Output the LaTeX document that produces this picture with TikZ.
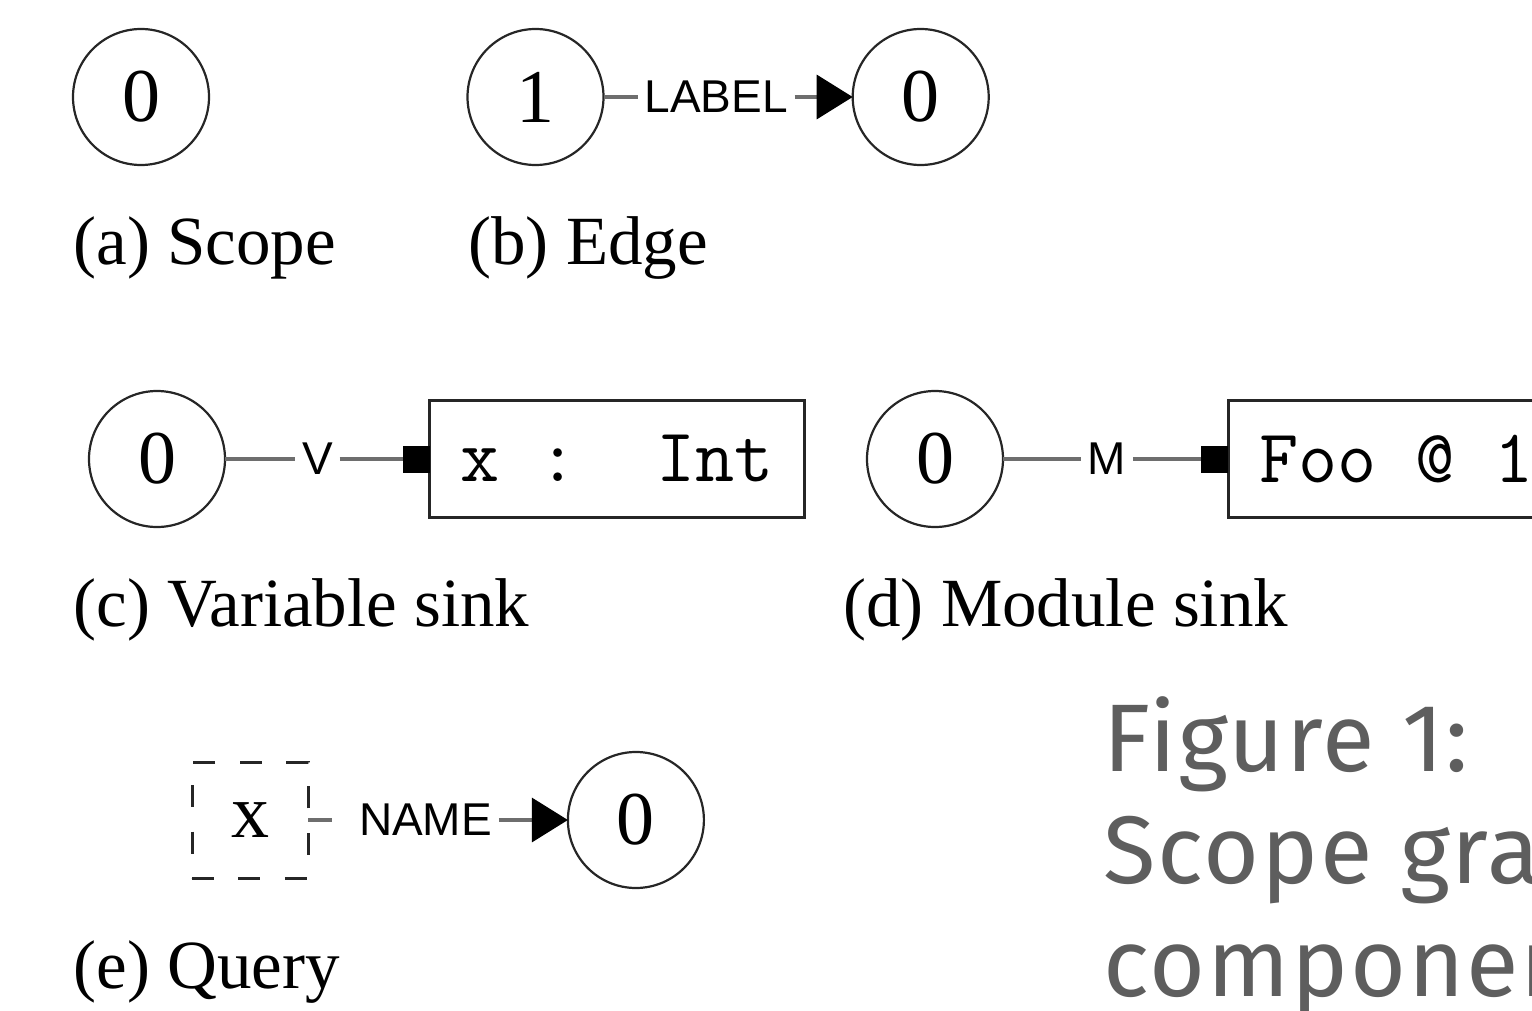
\documentclass[tikz,border=0pt]{standalone}
\usepackage{fontspec}
\setmainfont{Liberation Serif}
\setsansfont{Liberation Sans}
\newfontfamily\figfont[LetterSpace=2]{Fira Sans}
\usepackage{tikz}
\usetikzlibrary{arrows.meta, positioning}
\definecolor{capgray}{RGB}{94,94,94}
\definecolor{edgegray}{RGB}{110,110,110}
\tikzset{
    scopenode/.style={circle, draw=black!85, line width=1.1pt, minimum size=68pt, inner sep=0pt, outer sep=0pt, font=\fontsize{38}{44}\selectfont},
    sinkbox/.style={rectangle, draw=black!85, line width=1.6pt, inner xsep=15.5pt, minimum height=58.5pt, outer sep=0pt, font=\ttfamily\fontsize{38}{44}\selectfont},
    querybox/.style={rectangle, draw=black!85, line width=1.5pt, dash pattern=on 11pt off 12.2pt, minimum size=58pt, inner sep=0pt, outer sep=0pt, font=\fontsize{38}{44}\selectfont},
    edgelabel/.style={inner xsep=3.5pt, inner ysep=2pt, outer sep=0pt, font=\sffamily\fontsize{23}{27}\selectfont},
    edgeline/.style={draw=edgegray, line width=1.6pt},
    reaches/.style={edgeline, -{Triangle[length=18pt, width=22pt, color=black]}},
    sinks/.style={edgeline, -{Square[length=13.5pt, width=13.5pt, color=black]}},
    subcap/.style={anchor=base west, inner sep=0pt, font=\fontsize{34.5}{40}\selectfont},
    figcap/.style={anchor=base west, inner sep=0pt, align=left, text=capgray, font=\figfont\fontsize{48}{56.25}\selectfont}
}

\begin{document}
\begin{tikzpicture}[x=0.5pt, y=-0.5pt]
    \useasboundingbox (0,0) rectangle (1532,1011);
    \clip (0,0) rectangle (1532,1011);

    % (a) Scope
    \node[scopenode] (a0) at (141,97) {0};
    \node[subcap] (capa) at (73,264) {(a) Scope};

    % (b) Edge
    \node[scopenode] (b1) at (535.5,97) {1};
    \node[edgelabel, right=17pt of b1] (blabel) {LABEL};
    \node[scopenode, right=29pt of blabel] (b0) {0};
    \node[subcap] (capb) at (468,264) {(b) Edge};
    \draw[edgeline] (b1) -- (blabel);
    \draw[reaches] (blabel) -- (b0);

    % (c) Variable sink
    \node[scopenode] (c0) at (157,459) {0};
    \node[edgelabel, right=35pt of c0] (clabel) {V};
    \node[sinkbox, right=45pt of clabel] (csink) {x~:~~Int};
    \node[subcap] (capc) at (73,626) {(c) Variable sink};
    \draw[edgeline] (c0) -- (clabel);
    \draw[sinks] (clabel) -- (csink);

    % (d) Module sink
    \node[scopenode] (d0) at (935,459) {0};
    \node[edgelabel, right=38.75pt of d0] (dlabel) {M};
    \node[sinkbox, right=47.75pt of dlabel] (dsink) {Foo~@~1};
    \node[subcap] (capd) at (843,626) {(d) Module sink};
    \draw[edgeline] (d0) -- (dlabel);
    \draw[sinks] (dlabel) -- (dsink);

    % (e) Query
    \node[querybox] (eq) at (250,820) {x};
    \node[edgelabel, right=22pt of eq] (elabel) {NAME};
    \node[scopenode, right=34.5pt of elabel] (e0) {0};
    \node[subcap] (cape) at (73,988) {(e) Query};
    \draw[edgeline, shorten >=10pt] (eq) -- (elabel);
    \draw[reaches] (elabel) -- (e0);

    % figure caption (base = last line)
    \node[figcap] (fig) at (1103,996) {Figure 1:\\Scope graph\\components};
\end{tikzpicture}
\end{document}
